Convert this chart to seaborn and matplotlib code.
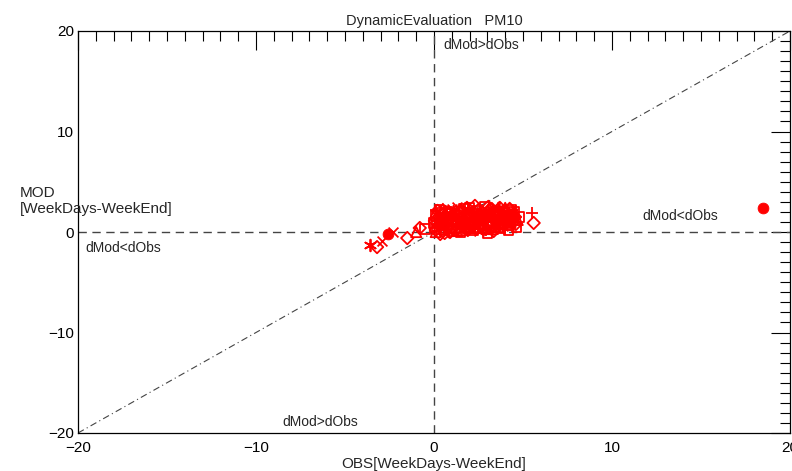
import matplotlib
matplotlib.use("Agg")
import matplotlib.pyplot as plt
import seaborn as sns
from matplotlib.ticker import MultipleLocator

sns.set_theme(style="white")
plt.rcParams['font.family'] = ['Liberation Sans', 'DejaVu Sans']

title = "DynamicEvaluation   PM10"
xlabel = "OBS[WeekDays-WeekEnd]"
ylabel = "MOD\n[WeekDays-WeekEnd]"

diam_x = [0.1, 0.3, 0.5, 0.8, 1.0, 1.2, 1.5, 1.7, 2.0, 2.2, 2.5, 2.7, 3.0, 3.2, 3.5, 3.8, 4.0, 4.3, 4.6, 5.6, -0.8, -1.5, -3.2, 0.6, 1.9, 2.8, 3.6,
          0.05, 0.35, 0.65, 0.95, 1.25, 1.55, 1.85, 2.15, 2.45, 2.75, 3.05, 3.35, 3.65, 3.95, 4.25, 4.55, 0.2, 0.9, 1.6, 2.3, 3.0, 3.7, 4.4]
diam_y = [0.2, 1.5, 0.8, 1.9, 0.4, 1.2, 2.0, 0.6, 1.5, 0.9, 2.2, 1.3, 0.7, 2.3, 1.6, 1.0, 2.1, 1.4, 0.8, 0.9, 0.4, -0.6, -1.5, -0.1, 0.2, 0.4, 0.6,
          1.1, -0.2, 2.0, 1.4, 0.2, 0.9, 2.4, 0.5, 1.0, 1.9, 2.5, 0.1, 1.2, 0.7, 2.3, 1.5, 2.1, 0.0, 1.4, 2.6, 1.6, 2.4, 0.9]

tri_x = [0.2, 0.4, 0.7, 0.9, 1.1, 1.4, 1.6, 1.8, 2.1, 2.4, 2.6, 2.9, 3.1, 3.4, 3.7, 3.9, 4.2, 4.5, -1.0, 0.05, 1.3, 2.3, 3.3, 4.7,
         0.1, 0.5, 0.85, 1.2, 1.5, 1.9, 2.2, 2.6, 2.95, 3.3, 3.6, 4.0, 4.3, 0.3, 1.0, 1.7, 2.4, 3.1, 3.8]
tri_y = [1.0, 0.3, 1.7, 0.5, 2.1, 1.0, 0.2, 1.8, 1.2, 0.4, 1.9, 1.5, 2.4, 0.9, 1.8, 1.3, 0.7, 1.9, 0.0, 1.8, 0.1, 2.0, 0.3, 1.2,
         0.0, 2.3, 1.2, 0.8, 2.3, 0.4, 1.6, 0.9, 0.3, 2.2, 0.5, 2.4, 1.0, 0.9, 1.3, 1.2, 1.5, 1.9, 0.8]

sq_x = [0.15, 0.45, 0.75, 1.05, 1.35, 1.65, 1.95, 2.25, 2.55, 2.85, 3.15, 3.45, 3.75, 4.05, 4.35, 4.65, -0.5, 0.0, 2.0, 3.0, 4.8,
        0.3, 0.6, 1.0, 1.3, 1.7, 2.1, 2.4, 2.8, 3.2, 3.5, 3.9, 4.2, 4.5, 0.1, 0.8, 1.5, 2.2, 2.9, 3.6, 4.3]
sq_y = [0.6, 1.9, 1.1, 0.1, 1.6, 2.3, 0.8, 1.7, 0.5, 2.5, 1.1, 2.0, 0.4, 1.6, 2.2, 0.5, 0.3, 0.9, 2.4, -0.1, 1.5,
        2.2, 0.2, 1.8, 1.1, 0.5, 1.4, 2.1, 1.2, 0.6, 1.5, 1.9, 0.2, 2.0, 1.6, 0.7, 0.0, 0.2, 1.7, 0.9, 1.3]

cross_x = [0.25, 0.55, 0.85, 1.15, 1.45, 1.75, 2.05, 2.35, 2.65, 2.95, 3.25, 3.55, 3.85, 4.15, 4.45, -2.3, -2.9, 1.0, 2.5, 3.4,
           0.15, 0.45, 0.8, 1.3, 1.6, 2.0, 2.5, 2.8, 3.1, 3.5, 3.9, 4.3, 4.6]
cross_y = [1.3, 2.2, 0.9, 1.5, 0.6, 2.1, 0.3, 1.4, 2.0, 0.9, 1.7, 1.2, 2.3, 1.0, 1.6, 0.0, -0.9, 2.3, 0.1, 0.5,
           0.4, 1.7, 1.6, 2.5, 1.0, 1.1, 1.2, 2.4, 0.2, 2.5, 0.6, 2.2, 1.1]

plus_x = [0.35, 0.65, 0.95, 1.25, 1.55, 1.85, 2.15, 2.45, 2.75, 3.05, 3.35, 3.65, 3.95, 4.25, 4.55, 5.5, 0.1, 1.6, 2.9, 4.0]
plus_y = [0.5, 1.4, 2.0, 0.7, 1.3, 0.4, 1.9, 0.8, 1.6, 2.1, 1.4, 0.6, 2.0, 1.1, 0.9, 1.9, 2.2, 1.0, 0.2, 0.3]

ast_x = [-3.6, 0.5, 1.2, 1.9, 2.6, 3.3, 4.0, 4.4, 0.8, 2.2, 3.6]
ast_y = [-1.3, 1.0, 1.7, 2.3, 1.1, 1.9, 1.5, 2.0, 0.1, 0.6, 2.4]

dot_x = [18.5, -2.6, 0.4, 1.5, 2.4, 3.2, 4.1]
dot_y = [2.4, -0.2, 1.2, 1.1, 1.4, 1.5, 1.1]

fig = plt.figure(figsize=(7.92, 4.71), dpi=100)
ax = fig.add_axes([78 / 792, 1 - 433 / 471, (790 - 78) / 792, (433 - 31) / 471])

red = "#ff0000"
open_groups = [(diam_x, diam_y, 'D', 40), (tri_x, tri_y, '^', 55), (sq_x, sq_y, 's', 45)]
for gx, gy, m, s in open_groups:
    sns.scatterplot(x=gx, y=gy, marker=m, s=s, facecolor='none', edgecolor=red,
                    linewidth=1.3, ax=ax, zorder=3)
line_groups = [(cross_x, cross_y, 'x', 50), (plus_x, plus_y, '+', 70), (ast_x, ast_y, (6, 2, 0), 70)]
for gx, gy, m, s in line_groups:
    sns.scatterplot(x=gx, y=gy, marker=m, s=s, color=red, linewidth=1.3, ax=ax, zorder=3)
sns.scatterplot(x=dot_x, y=dot_y, marker='o', s=60, color=red, edgecolor=red, ax=ax, zorder=3)

ax.plot([-20, 20], [-20, 20], color="#444444", lw=0.8, ls=(0, (6, 3, 1, 3)), zorder=1)
ax.axhline(0, color="#444444", lw=1.0, ls=(0, (6, 4)), zorder=1)
ax.axvline(0, color="#444444", lw=1.0, ls=(0, (6, 4)), zorder=1)

ax.set_xlim(-20, 20)
ax.set_ylim(-20, 20)
ax.xaxis.set_major_locator(MultipleLocator(10))
ax.xaxis.set_minor_locator(MultipleLocator(1))
ax.yaxis.set_major_locator(MultipleLocator(10))
ax.yaxis.set_minor_locator(MultipleLocator(1))
ax.tick_params(which='both', direction='in', top=True, right=True, colors='black',
               labelsize=11, width=0.8)
ax.tick_params(which='major', length=14)
ax.tick_params(which='minor', length=7)
ax.tick_params(axis='x', which='major', pad=6)
ax.tick_params(axis='y', which='major', pad=3)
for sp in ax.spines.values():
    sp.set_color('black')
    sp.set_linewidth(0.9)

ax.set_title(title, fontsize=10.5, pad=4)
ax.set_xlabel(xlabel, fontsize=11, labelpad=1)
fig.text(20 / 792, 1 - 201 / 471, ylabel, fontsize=11, ha='left', va='center', linespacing=1.15)

ax.text(0.5, 18.6, "dMod>dObs", fontsize=10, ha='left', va='center')
ax.text(11.7, 1.6, "dMod<dObs", fontsize=10, ha='left', va='center')
ax.text(-19.6, -1.6, "dMod<dObs", fontsize=10, ha='left', va='center')
ax.text(-8.5, -18.9, "dMod>dObs", fontsize=10, ha='left', va='center')

fig.savefig("out.png", dpi=100, facecolor='white')
